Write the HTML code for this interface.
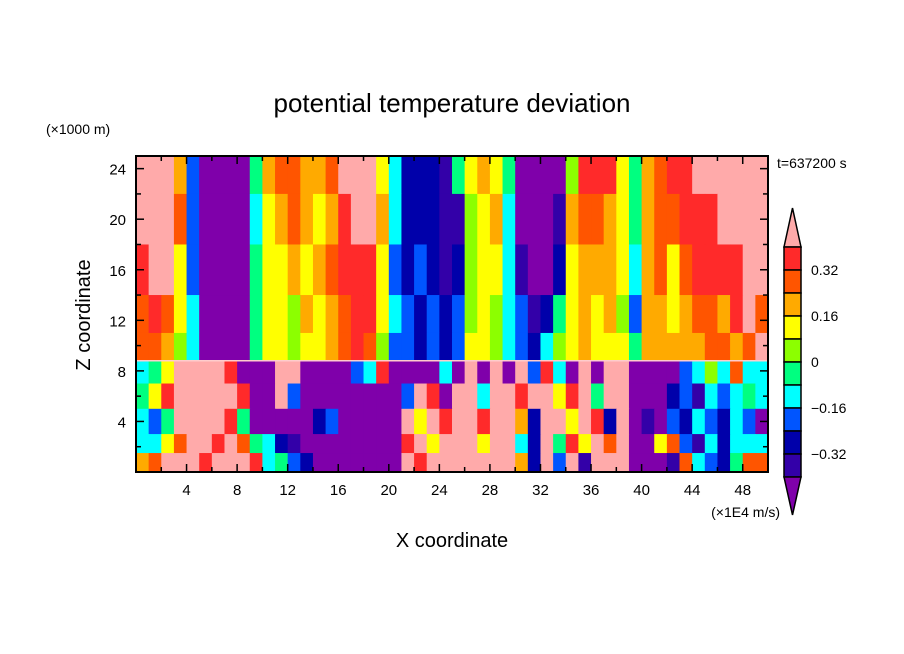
<!DOCTYPE html>
<html><head><meta charset="utf-8"><style>
body{margin:0;background:#fff;}
svg{display:block;font-family:"Liberation Sans",sans-serif;}
</style></head><body>
<svg id="chart" width="904" height="654" viewBox="0 0 904 654">
<text x="452" y="112" font-size="26" text-anchor="middle">potential temperature deviation</text>
<text x="46" y="134" font-size="14">(×1000 m)</text>
<text x="777" y="168" font-size="14">t=637200 s</text>
<text x="780" y="517" font-size="14" text-anchor="end">(×1E4 m/s)</text>
<text x="452" y="547" font-size="20" text-anchor="middle">X coordinate</text>
<text transform="translate(90,315) rotate(-90)" font-size="20" text-anchor="middle">Z coordinate</text>
<g id="cells"></g>
<g id="axes"></g>
<g id="cbar"></g>
</svg>
<script>
const palette=["#7f00aa","#3300a8","#0000aa","#0055ff","#00ffff","#00ff80","#8cff00","#ffff00","#ffaa00","#ff5500","#ff2a2a","#ffaaaa"];
const cbarLabels=["0.32","0.16","0","-0.16","-0.32"];
const rowTops=[25,22,18,14,11,8.8,7,5,3,1.5];
const rowBottoms=[22,18,14,11,8.8,7,5,3,1.5,0];
const rows=[
"bbb8300005"+"899889bbb7"+"4222157875"+"00006aaa75"+"89aabbbbbb",
"bbb9300004"+"789878abb8"+"4222116784"+"0001899875"+"899aaabbbb",
"abb7300005"+"778789aaa7"+"3232126774"+"1002788874"+"8979aaaabb",
"9a97400005"+"7768789aa7"+"4323236764"+"3125787863"+"8878998ab9",
"9986400005"+"7767789a96"+"3323237764"+"3246787775"+"888889989b",
"457bbbba00"+"0bb000034a"+"000040b0b0"+"b3a40b0bb0"+"0003464944",
"57abbbbba0"+"0b30000000"+"03ba0bb4bb"+"abb7ab5bb0"+"0023143454",
"435bbbba50"+"0000230000"+"0b7babbabb"+"82bb7ba2b0"+"1032432430",
"4479bbab95"+"4210000000"+"0ab7bbb7bb"+"42b5a7b9b0"+"0793142444",
"89bbbabbba"+"4532000000"+"0babbbbbbb"+"82b3b1bbb0"+"0019432599"
];
</script>
<script>
const svg=document.getElementById('chart');
const NS='http://www.w3.org/2000/svg';
const X0=136,X1=768,Y0=472,Y1=156,XMAX=50,ZMAX=25;
function sx(v){return X0+(v/XMAX)*(X1-X0);}
function sy(v){return Y0-(v/ZMAX)*(Y0-Y1);}
function mk(tag,attrs,parent){const e=document.createElementNS(NS,tag);for(const k in attrs)e.setAttribute(k,attrs[k]);parent.appendChild(e);return e;}
const cells=document.getElementById('cells');
rows.forEach((r,ri)=>{
  for(let i=0;i<50;i++){
    const ch=r[i]||'0';
    const lv=parseInt(ch,16)||0;
    const x=sx(i),w=sx(i+1)-x+0.6;
    const y=sy(rowTops[ri]),h=sy(rowBottoms[ri])-y+0.6;
    const c=mk('rect',{x:x,y:y,width:w,height:h,fill:palette[Math.min(lv,11)]},cells);
    
    
  }
});
const il=mk('line',{x1:X0,x2:X1,y1:sy(8.8),y2:sy(8.8),stroke:'#ffcccc','stroke-width':1.5},cells);


const axes=document.getElementById('axes');
const fr=mk('rect',{x:X0,y:Y1,width:X1-X0,height:Y0-Y1,fill:'none',stroke:'#000','stroke-width':2},axes);


for(let v=2;v<XMAX;v+=2){
  const L=v%4===0?8:5,x=sx(v);
  mk('line',{x1:x,x2:x,y1:Y0,y2:Y0-L,stroke:'#000','stroke-width':1.5},axes);
  mk('line',{x1:x,x2:x,y1:Y1,y2:Y1+L,stroke:'#000','stroke-width':1.5},axes);
  if(v%4===0){const t=mk('text',{x:x,y:Y0+23,'font-size':15,'text-anchor':'middle'},axes);t.textContent=v;
  
  }
}
for(let v=2;v<ZMAX;v+=2){
  const L=v%4===0?8:5,y=sy(v);
  mk('line',{x1:X0,x2:X0+L,y1:y,y2:y,stroke:'#000','stroke-width':1.5},axes);
  mk('line',{x1:X1,x2:X1-L,y1:y,y2:y,stroke:'#000','stroke-width':1.5},axes);
  if(v%4===0){const t=mk('text',{x:X0-10,y:y+6,'font-size':15,'text-anchor':'end'},axes);t.textContent=v;
  
  }
}
const cb=document.getElementById('cbar');
const CX=784,CW=17,CT=247,BH=23;
const tri1=mk('polygon',{points:`${CX},${CT} ${CX+CW/2},208 ${CX+CW},${CT}`,fill:palette[11],stroke:'#000','stroke-width':1.5},cb);


for(let k=0;k<10;k++){
  const b=mk('rect',{x:CX,y:CT+k*BH,width:CW,height:BH,fill:palette[10-k],stroke:'#000','stroke-width':1.5},cb);
  
  
}
const tri2=mk('polygon',{points:`${CX},${CT+10*BH} ${CX+CW/2},515 ${CX+CW},${CT+10*BH}`,fill:palette[0],stroke:'#000','stroke-width':1.5},cb);


cbarLabels.forEach((s,i)=>{
  const t=mk('text',{x:811,y:CT+BH*(1+2*i)+5,'font-size':14},cb);t.textContent=s.replace('-','\u2212');
  
  
});
</script>
</body></html>
